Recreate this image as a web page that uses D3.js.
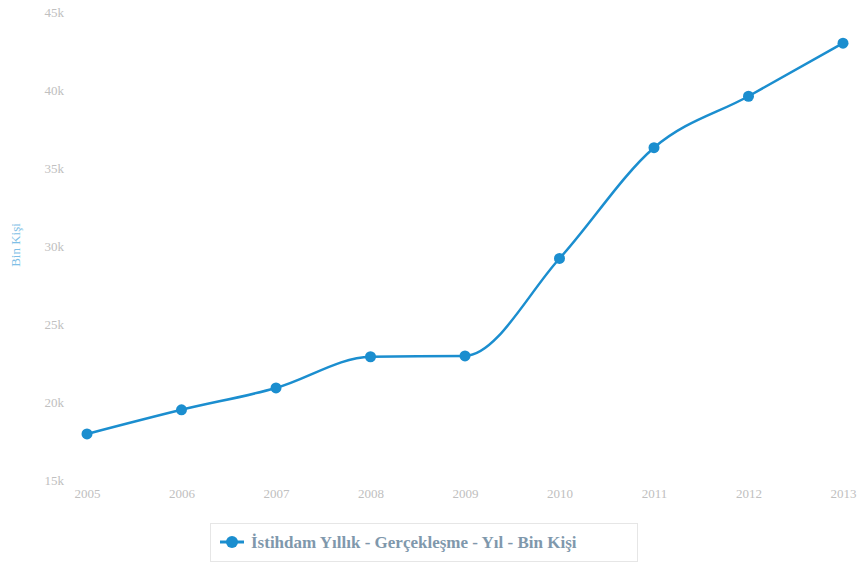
<!DOCTYPE html>
<html><head><meta charset="utf-8">
<script src="https://cdn.jsdelivr.net/npm/d3@7"></script>
<style>body{margin:0;background:#fff}svg{display:block}</style>
</head><body>
<svg id="c" width="866" height="565"></svg>
<script>
const years = ["2005","2006","2007","2008","2009","2010","2011","2012","2013"];
const values = [17.95, 19.5, 20.9, 22.9, 22.95, 29.2, 36.3, 39.6, 43.0];
const yTicks = [15, 20, 25, 30, 35, 40, 45];
const seriesName = "İstihdam Yıllık - Gerçekleşme - Yıl - Bin Kişi";
const yTitle = "Bin Kişi";

const svg = d3.select("#c");
const color = "#1b8ecf";
const x = d3.scalePoint().domain(years).range([87, 843]);
const y = d3.scaleLinear().domain([15, 45]).range([480, 12]);

const font = "'Liberation Serif', serif";
const yAxis = svg.append("g").attr("transform","translate(64,0)")
  .call(d3.axisLeft(y).tickValues(yTicks).tickFormat(d => d + "k").tickSize(0).tickPadding(0));
yAxis.select(".domain").remove();
yAxis.selectAll("text").attr("fill","#c0c0c0").style("font-family",font).style("font-size","13px");

const xAxis = svg.append("g").attr("transform","translate(0,489)")
  .call(d3.axisBottom(x).tickSize(0).tickPadding(0));
xAxis.select(".domain").remove();
xAxis.selectAll("text").attr("fill","#c0c0c0").style("font-family",font).style("font-size","13px");

svg.append("text").attr("transform","translate(20,245) rotate(-90)")
  .attr("text-anchor","middle").attr("fill","#7fbfe6")
  .style("font-family",font).style("font-size","13px").text(yTitle);

const line = d3.line().x((d,i)=>x(years[i])).y(d=>y(d)).curve(d3.curveMonotoneX);
svg.append("path").datum(values).attr("d",line).attr("fill","none")
  .attr("stroke",color).attr("stroke-width",2.5);
svg.selectAll("circle.pt").data(values).enter().append("circle").attr("class","pt")
  .attr("cx",(d,i)=>x(years[i])).attr("cy",d=>y(d)).attr("r",5.5).attr("fill",color);

// legend
const lg = svg.append("g");
lg.append("rect").attr("x",210.5).attr("y",523.5).attr("width",427).attr("height",38)
  .attr("fill","#fff").attr("stroke","#e6e6e6");
lg.append("line").attr("x1",220).attr("x2",244).attr("y1",542).attr("y2",542)
  .attr("stroke",color).attr("stroke-width",3);
lg.append("circle").attr("cx",232).attr("cy",542).attr("r",6).attr("fill",color);
lg.append("text").attr("x",251).attr("y",548).attr("fill","#7f98ac")
  .style("font-family",font).style("font-size","17px").style("font-weight","bold").text(seriesName);
</script>
</body></html>
